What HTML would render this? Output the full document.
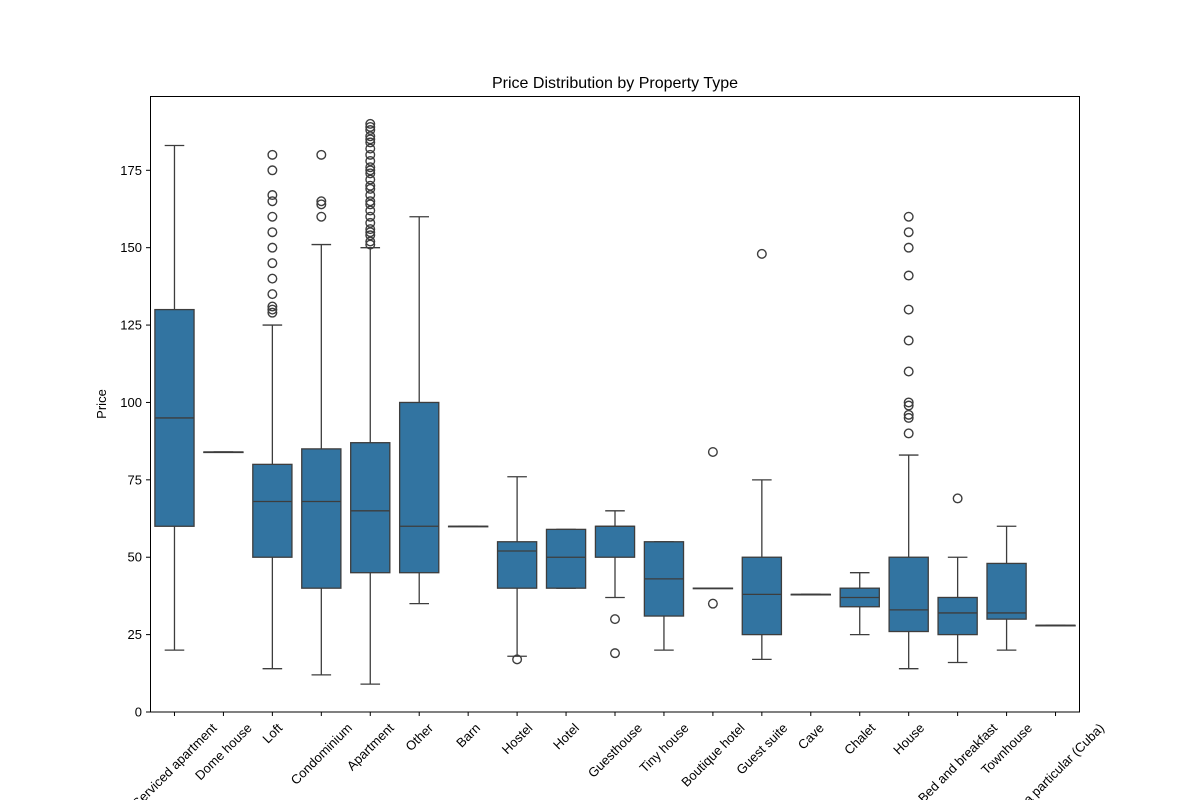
<!DOCTYPE html>
<html><head><meta charset="utf-8"><style>
body{margin:0;background:#fff;}
svg text{font-family:"Liberation Sans","DejaVu Sans",sans-serif;}
</style></head><body>
<svg id="chart" width="1200" height="800" xmlns="http://www.w3.org/2000/svg">
<rect x="0" y="0" width="1200" height="800" fill="#fff"/>
<text x="615" y="88" text-anchor="middle" font-size="16">Price Distribution by Property Type</text>
<text transform="translate(106,404) rotate(-90)" text-anchor="middle" font-size="13">Price</text>
<g id="plot"></g>
<rect x="150.5" y="96.5" width="929" height="615.5" fill="none" stroke="#000" stroke-width="1"/>
</svg>
<script>
const categories=["Serviced apartment","Dome house","Loft","Condominium","Apartment","Other","Barn","Hostel","Hotel","Guesthouse","Tiny house","Boutique hotel","Guest suite","Cave","Chalet","House","Bed and breakfast","Townhouse","Casa particular (Cuba)"];
const q1=[60,84,50,40,45,45,60,40,40,50,31,40,25,38,34,26,25,30,28];
const medians=[95,84,68,68,65,60,60,52,50,60,43,40,38,38,37,33,32,32,28];
const q3=[130,84,80,85,87,100,60,55,59,60,55,40,50,38,40,50,37,48,28];
const whiskerLow=[20,84,14,12,9,35,60,18,40,37,20,40,17,38,25,14,16,20,28];
const whiskerHigh=[183,84,125,151,150,160,60,76,59,65,55,40,75,38,45,83,50,60,28];
const outliers=[[],[],[129,130,131,135,140,145,150,155,160,165,167,175,180],[160,164,165,180],
[151,152,154,155,156,158,160,162,164,165,167,169,170,172,174,175,176,178,180,182,184,185,186,188,189,190],
[],[],[17],[],[30,19],[],[84,35],[148],[],[],[90,95,96,99,100,110,120,130,141,150,155,160],[69],[],[]];
const yTicks=[0,25,50,75,100,125,150,175];
const L=150,R=1080,T=96,B=712,VMAX=199;
const y=v=>B-v*(B-T)/VMAX;
const step=(R-L)/categories.length;
const x=i=>L+step*(i+0.5);
const NS="http://www.w3.org/2000/svg";
const g=document.getElementById('plot');
function mk(tag,attrs,parent){const e=document.createElementNS(NS,tag);for(const k in attrs)e.setAttribute(k,attrs[k]);(parent||g).appendChild(e);return e;}
const lc="#3d3d3d";
yTicks.forEach(v=>{
  const t=mk('line',{x1:L-4,x2:L,y1:y(v),y2:y(v),stroke:'#000'});
  
  
  const tx=mk('text',{x:L-8,y:y(v)+4.5,'text-anchor':'end','font-size':13});
  tx.textContent=v;
  
  
});
const bw=step*0.8;
categories.forEach((c,i)=>{
  const cx=x(i);
  const grp=mk('g',{});
  
  
  mk('line',{x1:cx,x2:cx,y1:y(whiskerLow[i]),y2:y(q1[i]),stroke:lc,'stroke-width':1.3},grp);
  mk('line',{x1:cx,x2:cx,y1:y(q3[i]),y2:y(whiskerHigh[i]),stroke:lc,'stroke-width':1.3},grp);
  mk('line',{x1:cx-bw/4,x2:cx+bw/4,y1:y(whiskerLow[i]),y2:y(whiskerLow[i]),stroke:lc,'stroke-width':1.3},grp);
  mk('line',{x1:cx-bw/4,x2:cx+bw/4,y1:y(whiskerHigh[i]),y2:y(whiskerHigh[i]),stroke:lc,'stroke-width':1.3},grp);
  mk('rect',{x:cx-bw/2,y:y(q3[i]),width:bw,height:Math.max(0.5,y(q1[i])-y(q3[i])),fill:'#3274a1',stroke:lc,'stroke-width':1.3},grp);
  mk('line',{x1:cx-bw/2,x2:cx+bw/2,y1:y(medians[i]),y2:y(medians[i]),stroke:lc,'stroke-width':1.3},grp);
  outliers[i].forEach(v=>{
    const o=mk('circle',{cx:cx,cy:y(v),r:4.3,fill:'none',stroke:lc,'stroke-width':1.4},grp);
    
    
  });
  const t=mk('line',{x1:cx,x2:cx,y1:B,y2:B+4,stroke:'#000'});
  
  
  const tx=mk('text',{x:0,y:4.5,'text-anchor':'middle','font-size':13});
  tx.textContent=c;
  
  
  const w=tx.getComputedTextLength();
  const half=(w+13)*0.7071/2;
  tx.setAttribute('transform',`translate(${cx},${B+9+half}) rotate(-45)`);
});
</script>
</body></html>
